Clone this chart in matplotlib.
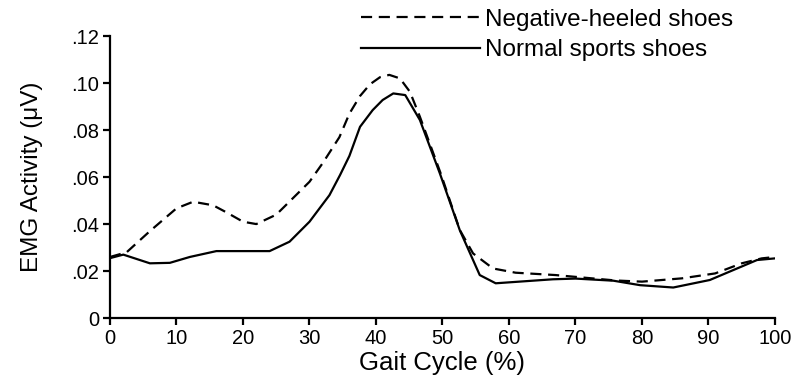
import numpy as np
import matplotlib.pyplot as plt

# -------------------------------------------------
# data (gait cycle %, EMG activity)
# -------------------------------------------------
neg_x = [0, 2.5, 6, 10, 12.5, 15.5, 17.5, 20, 22, 25, 27.5, 30, 32,
         34.5, 36, 37.6, 39.1, 40.6, 42, 43.6, 45.1, 46.6, 49.8, 52.6,
         54.6, 57.6, 61, 67, 76, 80, 86, 91, 95, 98, 100]
neg_y = [0.026, 0.028, 0.037, 0.0467, 0.0495, 0.048, 0.045, 0.041, 0.040,
         0.044, 0.051, 0.058, 0.066, 0.077, 0.087, 0.0945, 0.0995, 0.1025,
         0.1035, 0.102, 0.0963, 0.0857, 0.061, 0.0375, 0.0275, 0.0211,
         0.0193, 0.0183, 0.016, 0.0155, 0.0169, 0.019, 0.0233, 0.0254, 0.026]

norm_x = [0, 2, 6, 9, 12, 16, 24, 27, 30, 33, 34.6, 36, 37.6, 39.5, 41,
          42.6, 44.4, 46.6, 49.6, 52.6, 55.6, 58, 66.6, 70, 75.7, 79.7,
          84.7, 90.2, 97.3, 100]
norm_y = [0.0255, 0.027, 0.0233, 0.0235, 0.026, 0.0285, 0.0285, 0.0325,
          0.041, 0.0523, 0.0609, 0.069, 0.0814, 0.0885, 0.0928, 0.0956,
          0.0949, 0.0843, 0.0616, 0.0374, 0.0183, 0.0148, 0.0165, 0.0168,
          0.0159, 0.014, 0.013, 0.0162, 0.0247, 0.0254]

x_ticks = [0, 10, 20, 30, 40, 50, 60, 70, 80, 90, 100]
y_ticks = [0, 0.02, 0.04, 0.06, 0.08, 0.10, 0.12]
y_tick_labels = ["0", ".02", ".04", ".06", ".08", ".10", ".12"]

plt.rcParams["font.family"] = ["Liberation Sans", "DejaVu Sans"]

fig = plt.figure(figsize=(7.93, 3.8), dpi=100)
ax = fig.add_axes([0.1387, 0.163, 0.9773 - 0.1387, 0.905 - 0.163])

ax.plot(neg_x, neg_y, color="black", lw=1.6, linestyle=(0, (5, 3)),
        label="Negative-heeled shoes")
ax.plot(norm_x, norm_y, color="black", lw=1.6, label="Normal sports shoes")

ax.set_xlim(0, 100)
ax.set_ylim(0, 0.12)
ax.set_xticks(x_ticks)
ax.set_yticks(y_ticks)
ax.set_yticklabels(y_tick_labels)

for side in ("top", "right"):
    ax.spines[side].set_visible(False)
for side in ("left", "bottom"):
    ax.spines[side].set_linewidth(1.6)
ax.tick_params(direction="out", length=5, width=1.6, labelsize=14.5, pad=3)

ax.set_xlabel("Gait Cycle (%)", fontsize=18.5, labelpad=2)
ax.set_ylabel("EMG Activity (\u03bcV)", fontsize=17.5, labelpad=20)

fig.legend(loc="upper left", bbox_to_anchor=(0.443, 1.002), frameon=False,
           fontsize=17.5, handlelength=4.9, handletextpad=0.2,
           labelspacing=0.33, borderaxespad=0)

fig.savefig("out.png", dpi=100)
